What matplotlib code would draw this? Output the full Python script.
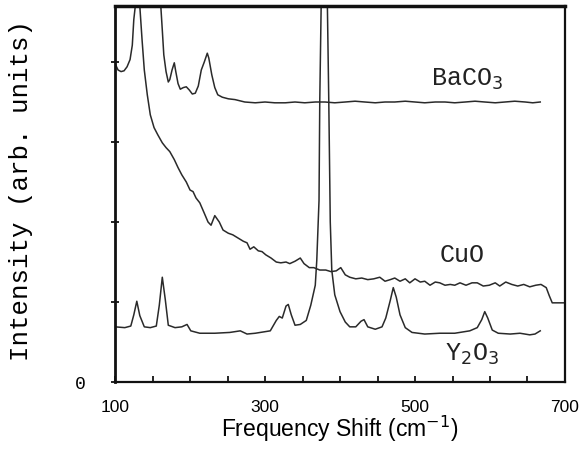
import matplotlib.pyplot as plt
from matplotlib.ticker import MultipleLocator

# Raman spectra (intensity in arbitrary units, offset per sample)
baco3_x = [100, 104, 108, 112, 116, 120, 123, 125, 127, 130, 136, 145, 154, 159, 161,
           163, 165, 168, 171, 173, 176, 179, 181, 184, 187, 191, 195, 199, 203, 207,
           211, 215, 219, 223, 225, 229, 233, 237, 243, 251, 260, 273, 287, 300, 313,
           327, 340, 353, 367, 380, 393, 407, 420, 433, 447, 460, 473, 487, 500, 513,
           527, 540, 553, 567, 580, 593, 607, 620, 633, 647, 657, 667]
baco3_y = [3.98, 3.90, 3.88, 3.89, 3.94, 4.03, 4.21, 4.53, 4.70, 5.2, 5.6, 5.2, 5.6, 5.1, 4.70,
           4.40, 4.09, 3.88, 3.75, 3.78, 3.90, 3.99, 3.88, 3.73, 3.66, 3.68, 3.69, 3.65, 3.60, 3.61,
           3.70, 3.90, 4.00, 4.11, 4.05, 3.84, 3.68, 3.59, 3.56, 3.54, 3.53, 3.50, 3.49, 3.50, 3.49,
           3.49, 3.50, 3.49, 3.50, 3.50, 3.49, 3.50, 3.51, 3.50, 3.49, 3.50, 3.50, 3.51, 3.50, 3.49,
           3.50, 3.50, 3.49, 3.50, 3.51, 3.50, 3.49, 3.50, 3.51, 3.50, 3.49, 3.50]

cuo_x = [131, 133, 136, 139, 143, 147, 152, 157, 163, 168, 173, 179, 184, 189, 195,
         200, 204, 208, 213, 219, 224, 228, 233, 239, 244, 251, 257, 264, 271, 276,
         280, 285, 291, 296, 301, 308, 315, 321, 328, 333, 340, 347, 352, 359, 365,
         373, 381, 388, 395, 401, 407, 413, 421, 429, 437, 445, 453, 460, 467, 473,
         480, 487, 493, 500, 507, 513, 520, 527, 533, 540, 547, 553, 560, 568, 576,
         583, 591, 599, 607, 613, 621, 629, 637, 645, 653, 661, 668, 675, 679, 683,
         691, 700]
cuo_y = [5.00, 4.70, 4.28, 3.90, 3.59, 3.34, 3.18, 3.09, 2.99, 2.93, 2.88, 2.78, 2.68, 2.59, 2.50,
         2.40, 2.38, 2.30, 2.24, 2.11, 2.00, 1.96, 2.08, 2.00, 1.90, 1.86, 1.84, 1.80, 1.76, 1.74,
         1.66, 1.69, 1.64, 1.63, 1.59, 1.55, 1.50, 1.49, 1.50, 1.48, 1.51, 1.55, 1.48, 1.43, 1.43,
         1.40, 1.40, 1.38, 1.39, 1.43, 1.34, 1.31, 1.29, 1.30, 1.28, 1.29, 1.31, 1.26, 1.28, 1.30,
         1.26, 1.29, 1.24, 1.29, 1.25, 1.26, 1.21, 1.25, 1.24, 1.21, 1.22, 1.21, 1.24, 1.21, 1.24,
         1.24, 1.20, 1.21, 1.24, 1.20, 1.25, 1.22, 1.20, 1.22, 1.19, 1.21, 1.22, 1.18, 1.08, 0.99,
         0.99, 0.99]

y2o3_x = [100, 113, 121, 125, 129, 133, 139, 147, 155, 159, 163, 167, 171, 180, 189,
          196, 201, 213, 233, 253, 267, 276, 287, 307, 315, 319, 323, 328, 331, 335,
          340, 347, 355, 361, 367, 369, 372, 373, 375, 379, 383, 385, 387, 389, 393,
          400, 407, 413, 421, 428, 432, 437, 447, 456, 461, 467, 471, 475, 480, 487,
          496, 513, 533, 553, 573, 583, 589, 593, 597, 603, 611, 627, 640, 653, 660,
          667]
y2o3_y = [0.69, 0.68, 0.70, 0.84, 1.01, 0.83, 0.69, 0.68, 0.70, 0.96, 1.31, 1.03, 0.71, 0.68, 0.69,
          0.72, 0.64, 0.61, 0.61, 0.62, 0.64, 0.60, 0.61, 0.64, 0.77, 0.82, 0.80, 0.95, 0.97, 0.84,
          0.71, 0.72, 0.77, 0.96, 1.21, 1.52, 2.27, 3.52, 4.80, 6.00, 4.80, 3.52, 2.00, 1.40, 1.09,
          0.88, 0.75, 0.69, 0.69, 0.76, 0.78, 0.69, 0.66, 0.69, 0.80, 1.02, 1.18, 1.06, 0.84, 0.68,
          0.62, 0.60, 0.61, 0.61, 0.64, 0.68, 0.78, 0.88, 0.80, 0.65, 0.61, 0.60, 0.61, 0.59, 0.60,
          0.64]

labels = ["BaCO$_3$", "CuO", "Y$_2$O$_3$"]
label_x = [569, 563, 576]
label_y = [3.78, 1.59, 0.34]

x_ticks = [100, 300, 500, 700]

mono = "Liberation Mono"
sans = "Liberation Sans"

fig = plt.figure(figsize=(5.87, 4.5), dpi=100)
ax = fig.add_axes([0.196, 0.151, 0.7665, 0.8357])

for xs, ys in [(baco3_x, baco3_y), (cuo_x, cuo_y), (y2o3_x, y2o3_y)]:
    ax.plot(xs, ys, color="#2a2a2a", lw=1.1)

for lab, lx, ly in zip(labels, label_x, label_y):
    ax.text(lx, ly, lab, family=mono, fontsize=18, ha="center", va="center", color="#222222")

ax.set_xlim(100, 700)
ax.set_ylim(0, 4.7)
ax.set_xticks(x_ticks)
ax.set_xticklabels([str(v) for v in x_ticks], family=sans, fontsize=12.5)
ax.xaxis.set_minor_locator(MultipleLocator(50))
ax.set_yticks([0, 1, 2, 3, 4])
ax.set_yticklabels(["0", "", "", "", ""], family=mono, fontsize=13)
ax.tick_params(axis="y", direction="inout", length=6, width=1.2, pad=18)
ax.tick_params(axis="x", which="both", direction="in", length=4, width=1.2, pad=13)

ax.set_xlabel("Frequency Shift (cm$^{-1}$)", family=sans, fontsize=16.5)
ax.xaxis.set_label_coords(0.5, -0.085)
ax.set_ylabel("Intensity (arb. units)", family=mono, fontsize=18.5)
ax.yaxis.set_label_coords(-0.182, 0.51)

for side, w in [("top", 2.5), ("left", 2.0), ("right", 1.6), ("bottom", 1.6)]:
    ax.spines[side].set_linewidth(w)
    ax.spines[side].set_color("#111111")

fig.savefig("out.png", dpi=100)
